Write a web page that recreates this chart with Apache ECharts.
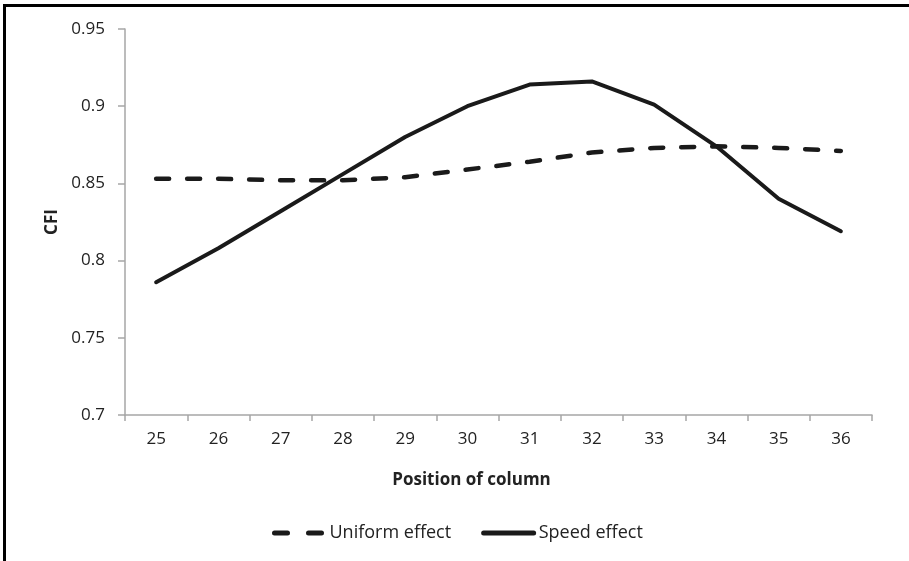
<!DOCTYPE html>
<html>
<head>
<meta charset="utf-8">
<script src="https://cdn.jsdelivr.net/npm/echarts@6/dist/echarts.min.js"></script>
<style>
html,body{margin:0;padding:0;background:#fff;}
#frame{position:absolute;left:3px;top:4px;width:906px;height:557px;border-top:3px solid #000;border-left:3px solid #000;box-sizing:border-box;}
#chart{position:absolute;left:0;top:0;width:909px;height:561px;}
</style>
</head>
<body>
<div id="frame"></div>
<div id="chart"></div>
<script>
const categories = ['25','26','27','28','29','30','31','32','33','34','35','36'];
const uniformEffect = [0.853,0.853,0.852,0.852,0.854,0.859,0.864,0.870,0.873,0.874,0.873,0.871];
const speedEffect = [0.786,0.808,0.832,0.856,0.880,0.900,0.914,0.916,0.901,0.874,0.840,0.819];
const yTicks = {min:0.7, max:0.95, interval:0.05};

const chart = echarts.init(document.getElementById('chart'));
const font = 'Open Sans';
chart.setOption({
  animation:false,
  backgroundColor:'transparent',
  grid:{left:125,right:37,top:29,bottom:146},
  legend:{
    left:267, top:519,
    itemWidth:50, itemHeight:14, itemGap:30,
    itemStyle:{opacity:0},
    lineStyle:{width:5,cap:'round'},
    textStyle:{fontFamily:font,fontSize:18,color:'#222'},
    data:[
      {name:'Uniform effect', lineStyle:{type:[13,21],width:5,cap:'round'}},
      {name:'Speed effect'}
    ]
  },
  xAxis:{
    type:'category',
    data:categories,
    boundaryGap:true,
    name:'Position of column',
    nameLocation:'middle',
    nameGap:57,
    nameTextStyle:{fontFamily:font,fontSize:17,fontWeight:'bold',color:'#222',padding:[0,54,0,0]},
    axisLine:{lineStyle:{color:'#a6a6a6',width:1.5}},
    axisTick:{show:true,length:6,lineStyle:{color:'#a6a6a6',width:1.5}},
    axisLabel:{fontFamily:font,fontSize:17,color:'#222',margin:16}
  },
  yAxis:{
    type:'value',
    min:yTicks.min,max:yTicks.max,interval:yTicks.interval,
    name:'CFI',
    nameLocation:'middle',
    nameGap:63,
    nameTextStyle:{fontFamily:font,fontSize:17,fontWeight:'bold',color:'#222'},
    axisLine:{show:true,lineStyle:{color:'#a6a6a6',width:1.5}},
    axisTick:{show:true,length:7,lineStyle:{color:'#a6a6a6',width:1.5}},
    splitLine:{show:false},
    axisLabel:{fontFamily:font,fontSize:17,color:'#222',margin:20,
      formatter:function(v){return String(parseFloat(v.toFixed(2)));}}
  },
  series:[
    {name:'Uniform effect',type:'line',data:uniformEffect,symbol:'none',
     lineStyle:{color:'#1a1a1a',width:4.5,type:[13,18],cap:'round'},
     itemStyle:{color:'#1a1a1a'}},
    {name:'Speed effect',type:'line',data:speedEffect,symbol:'none',
     lineStyle:{color:'#1a1a1a',width:4,cap:'round'},
     itemStyle:{color:'#1a1a1a'}}
  ]
});
</script>
</body>
</html>
